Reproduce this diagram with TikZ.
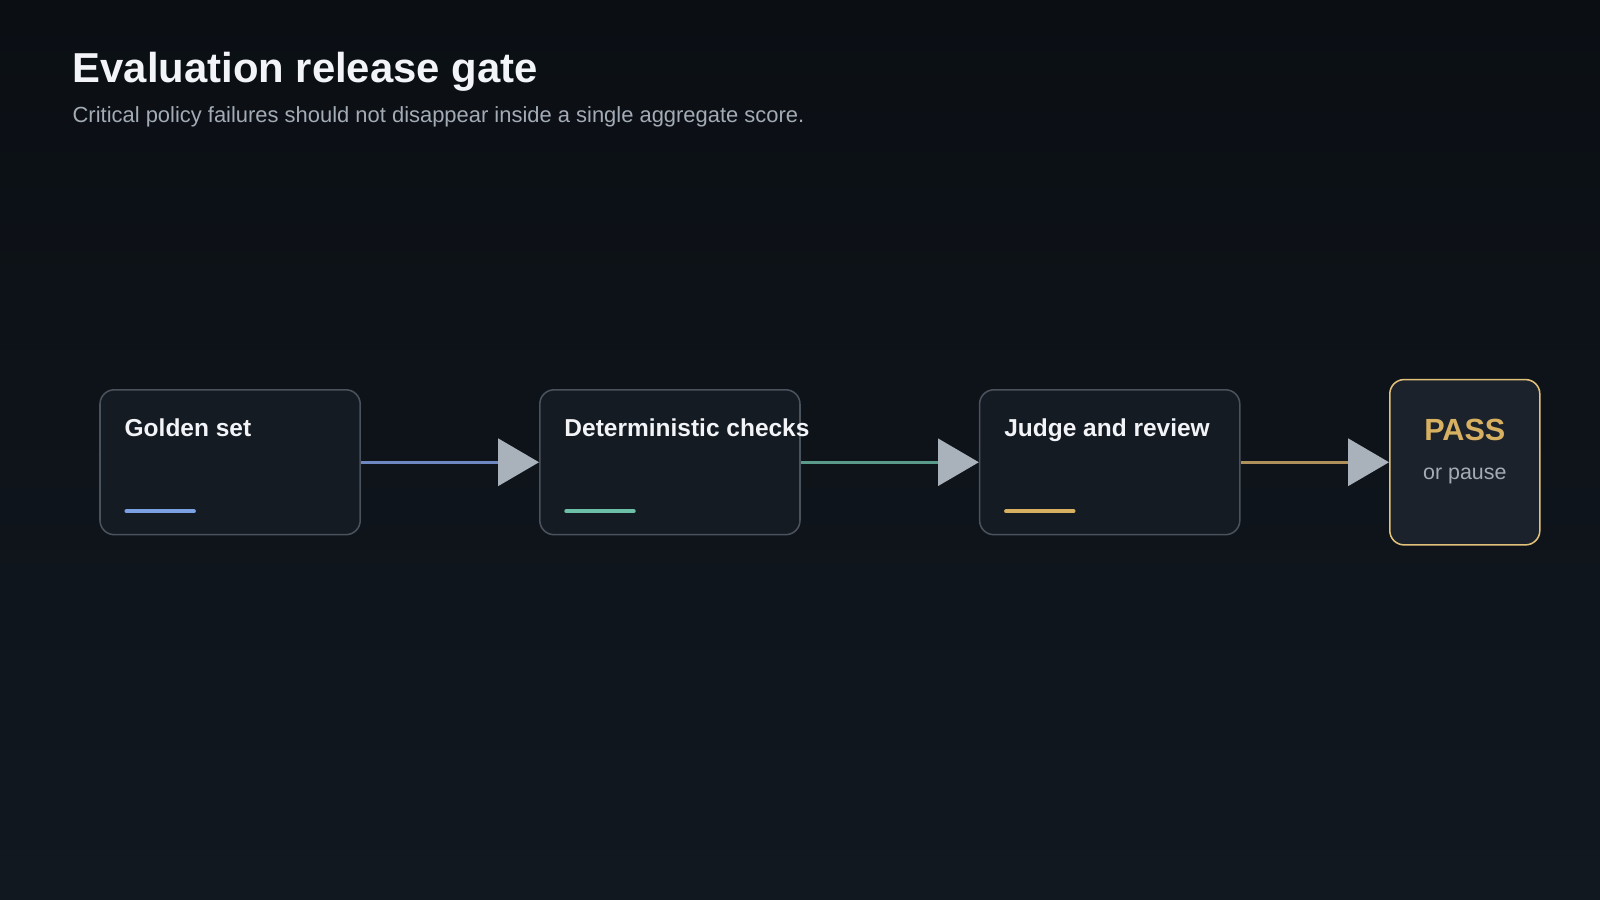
\documentclass[tikz,border=0pt]{standalone}
\usepackage{fontspec}
\setmainfont{Liberation Sans}
\usetikzlibrary{arrows.meta}
\definecolor{bgA}{HTML}{0B0F14}
\definecolor{bgB}{HTML}{111820}
\definecolor{boxfill}{HTML}{151B23}
\definecolor{boxline}{HTML}{4A525C}
\definecolor{txt}{HTML}{F2F4F7}
\definecolor{sub}{HTML}{A3ABB5}
\definecolor{tipc}{HTML}{A9B1BB}
\definecolor{lblue}{HTML}{6F87C0}
\definecolor{lteal}{HTML}{5A9A8A}
\definecolor{lgold}{HTML}{B0905A}
\definecolor{ablue}{HTML}{7BA0E4}
\definecolor{ateal}{HTML}{6CC0A8}
\definecolor{agold}{HTML}{D8B062}
\definecolor{passfill}{HTML}{1B222B}
\definecolor{passline}{HTML}{E2C27A}
\begin{document}
\begin{tikzpicture}[x=1pt,y=-1pt,
  box/.style={draw=boxline,line width=1.5pt,fill=boxfill,rounded corners=14pt,minimum width=255pt,minimum height=142pt,inner sep=0pt},
  ttl/.style={anchor=base west,text=txt,font=\bfseries\fontsize{24}{28}\selectfont,inner sep=0pt},
  conn/.style={line width=3pt,-{Triangle[length=40pt,width=46pt,color=tipc]}},
  bar/.style={line width=4pt,line cap=round}]
\shade[top color=bgA,bottom color=bgB,shading angle=0] (0,0) rectangle (1568,882);
\useasboundingbox (0,0) rectangle (1568,882);
\node[anchor=base west,text=txt,font=\bfseries\fontsize{41}{48}\selectfont,inner sep=0pt] (title) at (71,81) {Evaluation release gate};
\node[anchor=base west,text=sub,font=\fontsize{21.5}{25}\selectfont,inner sep=0pt] (subt) at (71,120) {Critical policy failures should not disappear inside a single aggregate score.};
\node[box] (a) at (225.5,453) {};
\node[box] (b) at (656.5,453) {};
\node[box] (c) at (1087.5,453) {};
\node[box,draw=passline,fill=passfill,minimum width=147pt,minimum height=162pt] (d) at (1435.5,453) {};
\node[ttl] (at) at (122,427.5) {Golden set};
\node[ttl] (bt) at (553,427.5) {Deterministic checks};
\node[ttl] (ct) at (984,427.5) {Judge and review};
\node[anchor=base,text=agold,font=\bfseries\fontsize{30}{34}\selectfont,inner sep=0pt] (dt) at (1435.5,432) {PASS};
\node[anchor=base,text=sub,font=\fontsize{21}{25}\selectfont,inner sep=0pt] (ds) at (1435.5,470) {or pause};
\coordinate (a1) at (124,501); \coordinate (a2) at (190,501);
\coordinate (b1) at (555,501); \coordinate (b2) at (621,501);
\coordinate (c1) at (986,501); \coordinate (c2) at (1052,501);
\draw[bar,ablue] (a1) -- (a2);
\draw[bar,ateal] (b1) -- (b2);
\draw[bar,agold] (c1) -- (c2);
\draw[conn,lblue] (a.east) -- (b.west);
\draw[conn,lteal] (b.east) -- (c.west);
\draw[conn,lgold] (c.east) -- (d.west);
\end{tikzpicture}
\end{document}
